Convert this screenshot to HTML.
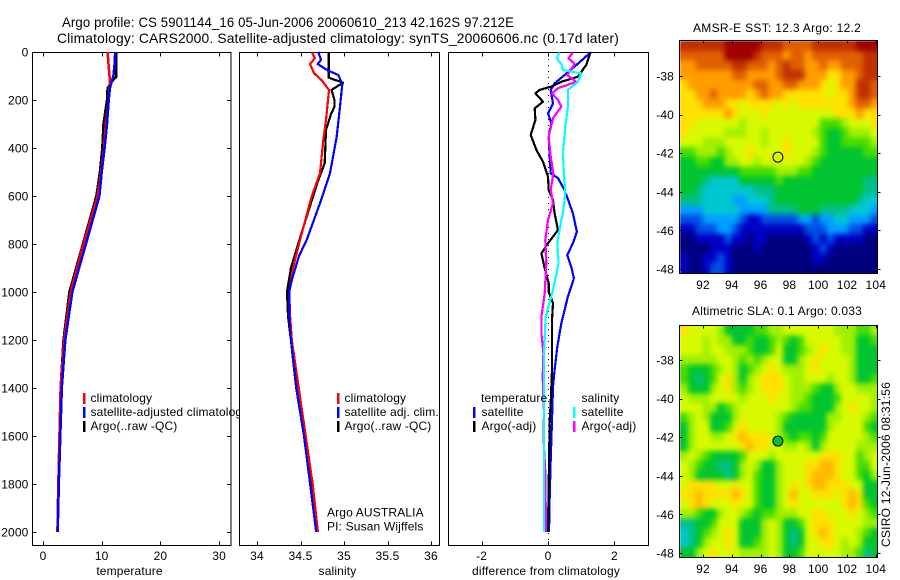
<!DOCTYPE html>
<html lang="en">
<head>
<meta charset="utf-8">
<title>Argo profile</title>
<style>
html,body{margin:0;padding:0;background:#fff;}
svg{display:block;font-family:"Liberation Sans",sans-serif;font-size:12px;fill:#000;letter-spacing:0.15px;}
text{stroke:none;}
.f{fill:none;stroke:#000;stroke-width:1;shape-rendering:crispEdges;}
</style>
</head>
<body>
<svg id="fig" xmlns="http://www.w3.org/2000/svg" width="900" height="580" viewBox="0 0 900 580">
  <rect x="0" y="0" width="900" height="580" fill="#fff"/>
  <defs>
    <clipPath id="legclip"><rect x="0" y="380" width="239" height="60"/></clipPath>
    <clipPath id="m1clip"><rect x="680" y="41" width="198" height="232"/></clipPath>
    <clipPath id="m2clip"><rect x="680" y="326" width="198" height="231"/></clipPath>
    <filter id="soften" x="-5%" y="-5%" width="110%" height="110%" color-interpolation-filters="sRGB">
      <feGaussianBlur in="SourceGraphic" stdDeviation="2.6" result="b"/>
      <feMerge><feMergeNode in="SourceGraphic"/><feMergeNode in="b"/></feMerge>
    </filter>
  </defs>
  <text x="62" y="27" font-size="14" textLength="452" lengthAdjust="spacingAndGlyphs">Argo profile: CS 5901144_16 05-Jun-2006 20060610_213 42.162S 97.212E</text>
  <text x="57" y="43" font-size="14" textLength="562" lengthAdjust="spacingAndGlyphs">Climatology: CARS2000. Satellite-adjusted climatology: synTS_20060606.nc (0.17d later)</text>

  <g id="p1"></g>
  <g id="p2"></g>
  <g id="p3"></g>
  <g id="m1"></g>
  <g id="m2"></g>

  <g>
    <rect x="83" y="393" width="2.5" height="11" fill="#f00"/>
    <rect x="83" y="407" width="2.5" height="11" fill="#00f"/>
    <rect x="83" y="421" width="2.5" height="11" fill="#000"/>
    <text x="90.5" y="402">climatology</text>
    <text x="90.5" y="416" clip-path="url(#legclip)">satellite-adjusted climatology</text>
    <text x="90.5" y="430">Argo(..raw -QC)</text>
  </g>
  <g>
    <rect x="337" y="393" width="2.5" height="11" fill="#f00"/>
    <rect x="337" y="407" width="2.5" height="11" fill="#00f"/>
    <rect x="337" y="421" width="2.5" height="11" fill="#000"/>
    <text x="344.5" y="402">climatology</text>
    <text x="344.5" y="416">satellite adj. clim.</text>
    <text x="344.5" y="430">Argo(..raw -QC)</text>
    <text x="327" y="516.5">Argo AUSTRALIA</text>
    <text x="327" y="530.5">PI: Susan Wijffels</text>
  </g>
  <g>
    <text x="481" y="402">temperature</text>
    <text x="581.5" y="402">salinity</text>
    <rect x="473" y="407" width="2.5" height="11" fill="#00f"/>
    <rect x="473" y="421" width="2.5" height="11" fill="#000"/>
    <rect x="573" y="407" width="2.5" height="11" fill="#0ff"/>
    <rect x="573" y="421" width="2.5" height="11" fill="#f0f"/>
    <text x="481.5" y="416">satellite</text>
    <text x="481.5" y="430">Argo(-adj)</text>
    <text x="581.5" y="416">satellite</text>
    <text x="581.5" y="430">Argo(-adj)</text>
  </g>

  <text x="129.5" y="575" text-anchor="middle">temperature</text>
  <text x="337.5" y="575" text-anchor="middle">salinity</text>
  <text x="472" y="575" textLength="148" lengthAdjust="spacing">difference from climatology</text>
  <text x="693" y="32" textLength="168" lengthAdjust="spacing">AMSR-E SST: 12.3 Argo: 12.2</text>
  <text x="692" y="315" textLength="170" lengthAdjust="spacing">Altimetric SLA: 0.1 Argo: 0.033</text>
  <text transform="translate(890 547) rotate(-90)" textLength="165" lengthAdjust="spacing">CSIRO 12-Jun-2006 08:31:56</text>
</svg>

<script>
// ---------- profile data ----------
const pressureTicks = [0,200,400,600,800,1000,1200,1400,1600,1800,2000];
const tempTicks = [0,10,20,30];
const salTicks = [34,34.5,35,35.5,36];
const salTickLabels = ['34','34.5','35','35.5','36'];
const diffTicks = [-2,0,2];
const diffTickLabels = ['-2','0','2'];
const lonTicks = [92,94,96,98,100,102,104];
const latTicks = [-38,-40,-42,-44,-46,-48];

const tempClimP = [0,60,120,200,300,400,500,600,800,1000,1200,1400,1600,1800,2000];
const tempClim  = [11,11.2,11.4,11.2,10.7,10.4,9.9,9.3,6.9,4.7,3.6,3.0,2.8,2.6,2.45];
const tempSatP  = [0,50,100,150,200,300,400,500,600,800,1000,1200,1400,1600,1800,2000];
const tempSat   = [12.3,12.2,12,11.4,11.2,10.9,10.5,10,9.6,7.3,5,3.8,3.2,2.95,2.7,2.5];
const tempArgoP = [0,105,115,150,200,300,400,500,600,800,1000,1200,1400,1600,1800,1930];
const tempArgo  = [12.45,12.45,12,11,10.9,10.3,10.1,9.7,9.1,6.8,4.5,3.5,3.0,2.85,2.6,2.5];

const salClimP = [0,26,50,88,117,158,283,367,505,603,783,900,1000,1100,1200,1400,1600,1800,2000];
const salClim  = [34.628,34.667,34.609,34.655,34.743,34.828,34.793,34.762,34.724,34.628,34.494,34.414,34.37,34.38,34.40,34.48,34.56,34.64,34.70];
const salSatP  = [0,33,50,78,96,133,228,353,505,630,783,850,950,1000,1100,1200,1400,1600,1800,2000];
const salSat   = [34.705,34.736,34.698,34.82,34.935,34.98,34.954,34.916,34.839,34.724,34.571,34.483,34.40,34.37,34.37,34.39,34.454,34.54,34.61,34.68];
const salArgoP = [0,107,128,158,200,228,262,325,463,546,686,783,900,1000,1100,1200,1400,1600,1800,1940];
const salArgo  = [34.824,34.824,34.99,34.858,34.89,34.89,34.847,34.793,34.778,34.693,34.571,34.487,34.39,34.345,34.356,34.39,34.45,34.54,34.62,34.67];

const diffTempSatP = [2,61,96,131,158,214,256,297,353,436,506,526,575,672,749,797,846,894,943,1019,1131,1228,1325,1394,1533,1700,1850,2000];
const diffTempSat  = [1.28,.80,.50,.20,.08,.15,0,.10,.02,.05,.08,.30,.50,.75,.87,.75,.58,.70,.78,.60,.40,.28,.20,.15,.12,.08,.05,.03];
const diffTempArgoP = [2,54,103,124,144,158,172,207,235,283,346,408,457,519,575,617,672,742,797,839,901,964,999,1047,1117,1256,1325,1464,1533,1800,2000];
const diffTempArgo  = [1.28,1.15,.90,.40,.10,-.25,-.38,-.15,-.40,-.38,-.52,-.35,-.15,0,.02,.15,.20,.30,0,-.20,-.10,.02,.02,.15,.12,.12,.12,.08,.05,.02,0];
const diffSalArgoP = [2,26,50,96,124,151,172,200,228,276,353,436,506,575,631,700,783,881,1006,1103,1172,1256,1353,1506,1600,1750,2000];
const diffSalArgo  = [.75,.62,.80,.58,.85,.30,.12,.30,.40,.15,.02,.08,.16,.08,.15,0,-.08,-.05,-.10,-.20,-.20,-.14,-.16,-.12,-.14,-.08,-.06];
const diffSalSatP = [2,26,54,75,89,124,158,228,311,422,506,589,672,700,797,881,992,1103,1256,2000];
const diffSalSat  = [.35,.26,.42,.45,1.0,.90,.60,.60,.52,.45,.48,.52,.45,.40,.28,.32,.15,-.07,-.12,-.12];

// ---------- map data (colour-level per grid cell) ----------
const sstRow00=[13,13,13,13,13,13,14,14,14,14,14,13,13,13,12,12,12,12,13,13,13,13,13,13,14,14,14];
const sstRow01=[12,12,12,12,12,12,14,14,14,14,13,12,12,12,11,12,12,11,12,12,12,12,12,12,12,13,13];
const sstRow02=[11,11,12,12,12,12,12,13,13,12,12,12,11,12,13,12,12,11,11,12,11,11,12,12,12,13,13];
const sstRow03=[11,11,11,11,11,11,11,12,12,11,11,11,11,12,13,13,13,11,11,11,10,10,11,11,12,13,13];
const sstRow04=[10,11,11,11,11,11,11,11,11,11,12,12,11,11,12,12,11,11,11,10,9,10,11,11,13,13,12];
const sstRow05=[10,10,11,11,12,11,11,11,11,10,11,12,11,11,10,10,10,10,10,10,9,10,10,11,13,13,12];
const sstRow06=[10,10,10,11,11,11,10,10,9,10,10,10,10,9,10,9,10,10,10,10,10,10,10,11,12,12,11];
const sstRow07=[10,10,10,10,10,10,11,10,9,9,9,10,9,9,9,9,9,9,9,9,9,10,10,10,11,10,10];
const sstRow08=[10,10,9,9,9,9,9,9,8,9,9,9,9,9,9,9,9,9,9,7,7,7,8,9,9,9,10];
const sstRow09=[10,9,9,9,9,9,8,8,8,9,9,8,9,9,9,9,9,9,8,7,6,6,7,8,8,8,9];
const sstRow10=[9,9,9,8,8,8,9,9,9,9,9,8,9,9,10,9,9,9,9,7,6,6,7,7,7,7,8];
const sstRow11=[7,7,8,8,8,7,8,9,9,10,9,9,9,9,10,9,9,9,8,7,6,6,6,6,6,7,7];
const sstRow12=[6,6,7,7,6,6,8,8,9,9,8,9,9,9,9,9,9,8,7,6,6,6,6,6,6,6,6];
const sstRow13=[6,6,6,6,6,6,6,6,7,7,7,7,7,8,8,8,7,7,6,6,6,6,6,6,6,6,6];
const sstRow14=[6,6,6,5,4,4,4,4,6,6,6,6,6,7,6,6,6,6,6,6,6,6,6,6,6,5,5];
const sstRow15=[6,6,5,4,4,4,4,4,4,4,5,5,5,6,6,6,6,6,6,6,6,6,6,6,6,5,5];
const sstRow16=[5,5,5,4,4,4,4,3,3,4,4,4,5,6,6,6,6,6,6,6,6,6,6,6,5,4,4];
const sstRow17=[3,3,3,4,4,4,4,4,3,3,3,3,5,5,5,5,6,6,6,5,5,5,5,4,4,4,3];
const sstRow18=[2,2,2,3,3,3,3,3,2,1,1,2,2,2,2,2,3,3,2,3,3,4,4,3,3,3,2];
const sstRow19=[1,1,2,2,2,3,3,2,1,1,1,1,1,1,1,1,1,2,2,2,3,3,3,2,2,1,1];
const sstRow20=[0,0,1,1,1,1,2,1,1,0,1,1,0,0,0,0,0,1,2,1,2,1,1,1,1,0,0];
const sstRow21=[0,0,0,0,1,1,1,0,0,0,1,0,0,0,0,0,0,0,1,2,1,0,0,0,0,0,0];
const sstRow22=[1,0,0,1,1,2,1,0,0,0,0,0,0,0,0,0,0,0,1,1,0,0,0,0,0,0,0];
const sstRow23=[1,0,0,1,2,2,1,0,0,0,0,0,0,0,0,0,0,0,0,0,0,0,0,0,0,0,0];
const sstCells=[sstRow00,sstRow01,sstRow02,sstRow03,sstRow04,sstRow05,sstRow06,sstRow07,sstRow08,sstRow09,sstRow10,sstRow11,sstRow12,sstRow13,sstRow14,sstRow15,sstRow16,sstRow17,sstRow18,sstRow19,sstRow20,sstRow21,sstRow22,sstRow23];

const slaRow00=[10,9,9,9,9,8,6,6,6,6,7,7,8,8,9,9,9,9,9,9,9,8,8,8,7,7,8];
const slaRow01=[9,9,9,8,9,8,8,6,6,7,6,6,7,8,7,6,7,9,9,9,9,9,8,8,6,6,7];
const slaRow02=[9,9,9,8,9,9,8,8,8,7,6,6,7,9,6,6,7,8,9,10,9,9,8,8,6,6,6];
const slaRow03=[8,8,8,8,8,9,9,8,7,8,7,8,9,9,6,6,8,9,10,9,9,9,9,8,6,6,6];
const slaRow04=[7,6,6,6,7,8,9,8,6,7,8,9,10,9,8,8,8,9,10,9,9,9,9,8,6,6,6];
const slaRow05=[7,6,5,6,7,9,10,8,6,8,9,10,10,10,9,8,8,9,9,9,8,9,9,8,6,6,7];
const slaRow06=[8,6,6,6,8,9,10,8,7,8,9,10,10,10,9,8,8,8,7,6,6,8,9,9,8,8,8];
const slaRow07=[9,8,8,8,9,9,9,9,8,9,9,9,10,9,9,8,8,7,6,6,6,7,9,9,9,9,8];
const slaRow08=[9,9,9,8,8,6,7,8,9,9,9,9,9,9,9,8,7,7,6,6,6,8,9,10,9,9,8];
const slaRow09=[7,8,9,8,6,6,6,8,9,9,9,9,9,8,7,6,6,6,6,6,8,8,9,9,9,8,7];
const slaRow10=[6,8,9,9,6,6,7,9,10,9,9,9,9,8,6,6,6,6,6,6,8,9,9,9,9,7,6];
const slaRow11=[6,8,9,9,8,8,9,10,10.6,10,10,10,9,8,7,6,7,7,6,7,9,9,9,9,9,8,7];
const slaRow12=[6,8,9,9,9,9,9,9,10,10.6,10,10,9,9,8,8,9,8,6,8,9,9,9,9,8,8,8];
const slaRow13=[8,9,8,7,6,6,6,6,7,9,9,9,8,9,9,9,9,9,9,10,10,10,9,9,7,8,9];
const slaRow14=[9,8,7,6,6,5,5,6,8,9,8,6,6,8,9,9,9,10,10,10.6,10.6,10,9,9,7,7,9];
const slaRow15=[9,8,6,6,6,6,5,6,8,9,7,6,6,8,9,9,9,10,10.6,10.6,10.6,10,9,9,7,6,8];
const slaRow16=[9,10,10,10,10,9,9,10,9,9,7,6,6,8,9,10,9,10,10.6,10.6,10,10,10,9,9,6,6];
const slaRow17=[10,10,10.6,10,10,10,10,10.6,10,9,7,6,6,8,9,10.6,9,9,10,10,10,9,10,10.6,10,6,6];
const slaRow18=[9,10,10.6,10,9,9,9,10,9,9,7,6,6,8,9,10,9,9,9,9,9,9,10,10.6,10,7,6];
const slaRow19=[8,8,7,6,6,8,9,9,8,7,6,7,7,8,8,8,9,9,10,10,9,9,9,10,9,8,7];
const slaRow20=[5,5,6,6,7,9,9,9,6,6,6,8,9,8,6,6,7,9,10,10,10,9,9,9,9,8,8];
const slaRow21=[4,5,6,7,8,9,10,9,6,6,6,8,9,8,6,5,6,9,10,10.6,10,9,9,9,8,7,6];
const slaRow22=[4,5,6,8,9,9,10,9,6,6,7,8,9,8,6,5,6,9,9,10,10,9,8,9,8,6,6];
const slaRow23=[6,6,8,9,10,9,9,9,8,8,8,8,9,8,6,6,7,9,9,9,9,9,8,8,7,5,6];
const slaCells=[slaRow00,slaRow01,slaRow02,slaRow03,slaRow04,slaRow05,slaRow06,slaRow07,slaRow08,slaRow09,slaRow10,slaRow11,slaRow12,slaRow13,slaRow14,slaRow15,slaRow16,slaRow17,slaRow18,slaRow19,slaRow20,slaRow21,slaRow22,slaRow23];

const floatLon = [97.2];
const floatLat = [-42.2];

// ---------- scales ----------
const NS='http://www.w3.org/2000/svg';
const colourRamp=[[0,0,127],[0,0,196],[0,80,230],[0,160,255],[0,200,208],[0,192,136],[0,196,48],[72,220,0],[160,240,0],[216,250,0],[255,224,0],[255,156,0],[224,96,0],[192,48,0],[160,0,0]];
function levelColour(level){
  const v=Math.max(0,Math.min(colourRamp.length-1,level));
  const i=Math.min(colourRamp.length-2,Math.floor(v));
  const f=v-i;
  const c=colourRamp[i].map((a,k)=>Math.round(a+(colourRamp[i+1][k]-a)*f));
  return 'rgb('+c.join(',')+')';
}
function make(tag,parent){const el=document.createElementNS(NS,tag);parent.appendChild(el);return el;}
function yP(p){return 52+p*0.24;}
function xT(v){return 43+v*5.87;}
function xS(v){return 257+(v-34)*87;}
function xD(v){return 548+v*33.2;}
function xLon(v){return 703+(v-92)*14.4;}

function drawFrame(g,x0,x1,y0,y1){
  const r=make('rect',g);
  
  
  r.setAttribute('class','f');
  r.setAttribute('x',x0);r.setAttribute('y',y0);r.setAttribute('width',x1-x0);r.setAttribute('height',y1-y0);
}
function drawTick(g,x1,y1,x2,y2){
  const l=make('line',g);
  
  
  l.setAttribute('class','f');
  l.setAttribute('x1',x1);l.setAttribute('y1',y1);l.setAttribute('x2',x2);l.setAttribute('y2',y2);
}
function drawLabel(g,x,y,s,anchor){
  const t=make('text',g);
  
  
  t.setAttribute('x',x);t.setAttribute('y',y);t.setAttribute('text-anchor',anchor);
  t.textContent=s;
}
function drawSeries(g,values,pressures,xs,colour,w,name){
  const pts=values.map((v,i)=>xs(v).toFixed(1)+','+yP(pressures[i]).toFixed(1)).join(' ');
  const l=make('polyline',g);
  
  
  l.setAttribute('points',pts);
  l.setAttribute('fill','none');
  l.setAttribute('stroke',colour);
  l.setAttribute('stroke-width',w);
  l.setAttribute('stroke-linejoin','round');
  l.setAttribute('shape-rendering','crispEdges');
}
function drawPanel(id,x0,x1,ticks,labels,xs,hasY){
  const g=document.getElementById(id);
  const bg=make('rect',g);
  
  
  bg.setAttribute('x',x0);bg.setAttribute('y',52);bg.setAttribute('width',x1-x0);bg.setAttribute('height',493);bg.setAttribute('fill','#fff');
  drawFrame(g,x0,x1,52.5,545.5);
  ticks.forEach((t,i)=>{
    const x=Math.round(xs(t))+0.5;
    drawTick(g,x,52.5,x,56.5);
    drawTick(g,x,545.5,x,541.5);
    drawLabel(g,xs(t),560,labels[i],'middle');
  });
  if(hasY){
    pressureTicks.forEach(p=>{
      const y=Math.round(yP(p))+0.5;
      drawTick(g,x0,y,x0+4,y);
      drawTick(g,x1,y,x1-4,y);
      drawLabel(g,x0-4,yP(p)+4.5,String(p),'end');
    });
  }
  return g;
}

const g1=drawPanel('p1',32.5,231,tempTicks,tempTicks.map(String),xT,true);
drawSeries(g1,tempArgo,tempArgoP,xT,'#000',2.5,'temperature-argo-line');
drawSeries(g1,tempClim,tempClimP,xT,'#f00',2.5,'temperature-climatology-line');
drawSeries(g1,tempSat,tempSatP,xT,'#00f',2.5,'temperature-satellite-line');

const g2=drawPanel('p2',239.5,439.5,salTicks,salTickLabels,xS,false);
drawSeries(g2,salArgo,salArgoP,xS,'#000',2.2,'salinity-argo-line');
drawSeries(g2,salClim,salClimP,xS,'#f00',2.2,'salinity-climatology-line');
drawSeries(g2,salSat,salSatP,xS,'#00f',2.2,'salinity-satellite-line');

const g3=drawPanel('p3',448.5,648.5,diffTicks,diffTickLabels,xD,false);
const zero=make('line',g3);


zero.setAttribute('x1',xD(0)+0.5);zero.setAttribute('x2',xD(0)+0.5);zero.setAttribute('y1',53);zero.setAttribute('y2',545);
zero.setAttribute('stroke','#000');zero.setAttribute('stroke-width',1);zero.setAttribute('stroke-dasharray','1 5');
zero.setAttribute('shape-rendering','crispEdges');
drawSeries(g3,diffTempSat,diffTempSatP,xD,'#00f',2.2,'diff-temperature-satellite-line');
drawSeries(g3,diffTempArgo,diffTempArgoP,xD,'#000',2.2,'diff-temperature-argo-line');
drawSeries(g3,diffSalArgo,diffSalArgoP,xD,'#f0f',2.2,'diff-salinity-argo-line');
drawSeries(g3,diffSalSat,diffSalSatP,xD,'#0ff',2.2,'diff-salinity-satellite-line');

function drawMap(id,cells,clipId,yTop,y38,frameTop,frameBottom,labelY,dotFill){
  const g=document.getElementById(id);
  const yLat=v=>y38+(-38-v)*19.3;
  const dLon=0.5067, dLat=0.4987, lonLeft=90.45;
  const latTop=-38+(y38-yTop)/19.3;
  const clip=make('g',g);
  
  
  clip.setAttribute('clip-path','url(#'+clipId+')');
  const layer=make('g',clip);
  
  
  layer.setAttribute('filter','url(#soften)');
  cells.forEach((row,r)=>{
    row.forEach((level,c)=>{
      const x=xLon(lonLeft+c*dLon);
      const y=yLat(latTop-r*dLat);
      const cell=make('rect',layer);
      
      
      cell.setAttribute('x',x.toFixed(1));
      cell.setAttribute('y',y.toFixed(1));
      cell.setAttribute('width',(dLon*14.4+0.6).toFixed(1));
      cell.setAttribute('height',(dLat*19.3+0.6).toFixed(1));
      cell.setAttribute('fill',levelColour(level));
      cell.setAttribute('shape-rendering','crispEdges');
    });
  });
  drawFrame(g,679.5,877.5,frameTop,frameBottom);
  lonTicks.forEach(v=>{
    const x=Math.round(xLon(v))+0.5;
    drawTick(g,x,frameTop,x,frameTop+3);
    drawTick(g,x,frameBottom,x,frameBottom-3);
    drawLabel(g,xLon(v),labelY,String(v),'middle');
  });
  latTicks.forEach(v=>{
    const y=Math.round(yLat(v))+0.5;
    drawTick(g,679.5,y,682.5,y);
    drawTick(g,877.5,y,880.5,y);
    drawLabel(g,674,yLat(v)+4.5,String(v),'end');
  });
  const dot=make('circle',g);
  
  
  dot.setAttribute('cx',xLon(floatLon[0]).toFixed(1));
  dot.setAttribute('cy',yLat(floatLat[0]).toFixed(1));
  dot.setAttribute('r',5);
  dot.setAttribute('fill',dotFill);
  dot.setAttribute('stroke','#000');
  dot.setAttribute('stroke-width',1);
}
drawMap('m1',sstCells,'m1clip',41.3,76,40.5,273.5,289,'none');
drawMap('m2',slaCells,'m2clip',326,360,325.5,557.5,573,'#00c030');
</script>
</body>
</html>
